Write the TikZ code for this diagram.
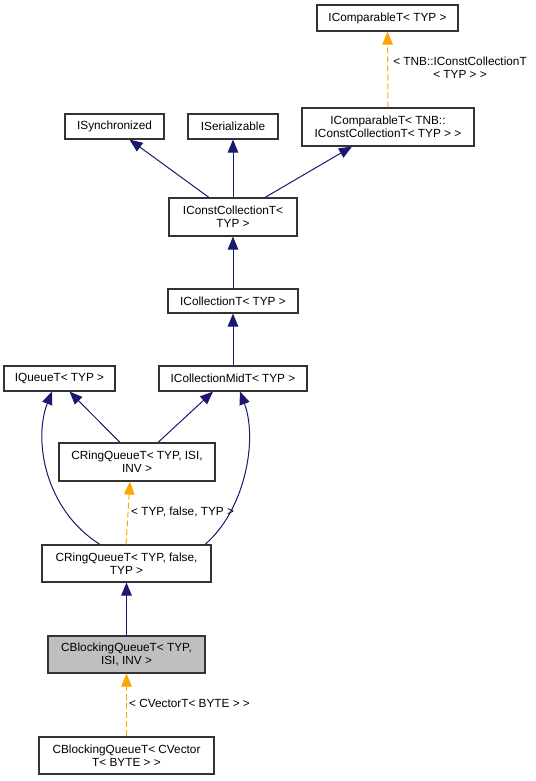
\documentclass[tikz,border=0pt]{standalone}
\usepackage{fontspec}
\setmainfont{Liberation Sans}
\usetikzlibrary{arrows.meta}
\definecolor{edgeblue}{HTML}{191970}
\definecolor{edgeorange}{HTML}{FFA500}
\definecolor{boxgray}{HTML}{BFBFBF}
\begin{document}
\begin{tikzpicture}[x=1pt,y=-1pt,
  every node/.style={font=\fontsize{11.8}{13}\selectfont},
  box/.style={draw=black!80, line width=1.1pt, fill=white, align=center, inner sep=0pt, text=black},
  inh/.style={draw=edgeblue, line width=1pt, -{Triangle[length=13pt,width=10.5pt]}},
  tmpl/.style={draw=edgeorange, line width=1pt, dash pattern=on 6pt off 3pt, -{Triangle[length=13pt,width=10.5pt]}},
  lbl/.style={inner sep=0pt, align=center, text=black}]
\useasboundingbox (0,0) rectangle (535,781);
\fill[white] (0,0) rectangle (535,781);

\node[box, minimum width=141pt, minimum height=26pt] (icmp) at (387.5,18) {IComparableT< TYP >};
\node[box, minimum width=172pt, minimum height=38pt] (icmpc) at (388,127) {IComparableT< TNB::\\IConstCollectionT< TYP > >};
\node[box, minimum width=99pt, minimum height=25pt] (isync) at (114.5,126.5) {ISynchronized};
\node[box, minimum width=90pt, minimum height=25pt] (iser) at (233,126.5) {ISerializable};
\node[box, minimum width=128pt, minimum height=38pt] (icc) at (233,217) {IConstCollectionT<\\TYP >};
\node[box, minimum width=130pt, minimum height=24pt] (icol) at (233,301) {ICollectionT< TYP >};
\node[box, minimum width=111pt, minimum height=25pt] (iq) at (59.5,378.5) {IQueueT< TYP >};
\node[box, minimum width=148pt, minimum height=25pt] (imid) at (233,378.5) {ICollectionMidT< TYP >};
\node[box, minimum width=156pt, minimum height=38pt] (crisi) at (137,462) {CRingQueueT< TYP, ISI,\\INV >};
\node[box, minimum width=169pt, minimum height=37pt] (crf) at (126.5,563.5) {CRingQueueT< TYP, false,\\TYP >};
\node[box, fill=boxgray, minimum width=157pt, minimum height=37pt] (cbq) at (126.5,654.5) {CBlockingQueueT< TYP,\\ISI, INV >};
\node[box, minimum width=175pt, minimum height=37pt] (cbqv) at (126.5,755.5) {CBlockingQueueT< CVector\\T< BYTE > >};

% inheritance edges
\draw[inh] ([xshift=-24pt]icc.north) -- ([xshift=15pt]isync.south);
\draw[inh] (icc.north) -- (iser.south);
\draw[inh] ([xshift=32pt]icc.north) -- ([xshift=-36pt]icmpc.south);
\draw[inh] (icol.north) -- (icc.south);
\draw[inh] (imid.north) -- (icol.south);
\draw[inh] ([xshift=-17pt]crisi.north) -- ([xshift=10pt]iq.south);
\draw[inh] ([xshift=21pt]crisi.north) -- ([xshift=-20pt]imid.south);
\draw[inh] ([xshift=-26.5pt]crf.north) .. controls (45,510) and (33,440) .. ([xshift=-7.5pt]iq.south);
\draw[inh] ([xshift=78.5pt]crf.north) .. controls (245,510) and (258,440) .. ([xshift=7pt]imid.south);
\draw[inh] (cbq.north) -- (crf.south);

% template edges
\draw[tmpl] ([xshift=-0.5pt]crf.north) -- ([xshift=-7pt]crisi.south);
\draw[tmpl] (cbqv.north) -- (cbq.south);
\draw[tmpl] (icmpc.north) -- (icmp.south);

% labels
\node[lbl, anchor=west] (l1) at (131,512) {< TYP, false, TYP >};
\node[lbl, anchor=west] (l2) at (129,703) {< CVectorT< BYTE > >};
\node[lbl] (l3) at (460,68) {< TNB::IConstCollectionT\\< TYP > >};
\end{tikzpicture}
\end{document}
